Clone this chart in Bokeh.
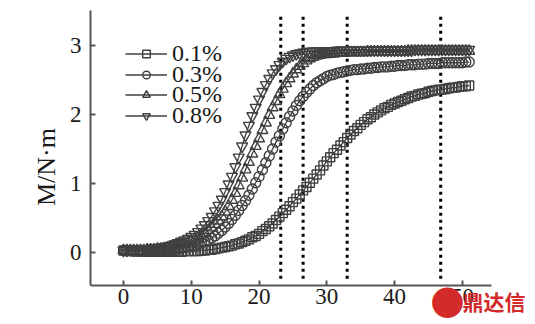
from bokeh.plotting import figure
from bokeh.models import (ColumnDataSource, Legend, LegendItem, Label, FixedTicker,
                          Range1d, CDSView, IndexFilter)
from bokeh.embed import file_html
from bokeh.resources import INLINE

# ---------------- data ----------------
TIME = [0, 0.5, 1, 1.5, 2, 2.5, 3, 3.5, 4, 4.5,
        5, 5.5, 6, 6.5, 7, 7.5, 8, 8.5, 9, 9.5,
        10, 10.5, 11, 11.5, 12, 12.5, 13, 13.5, 14, 14.5,
        15, 15.5, 16, 16.5, 17, 17.5, 18, 18.5, 19, 19.5,
        20, 20.5, 21, 21.5, 22, 22.5, 23, 23.5, 24, 24.5,
        25, 25.5, 26, 26.5, 27, 27.5, 28, 28.5, 29, 29.5,
        30, 30.5, 31, 31.5, 32, 32.5, 33, 33.5, 34, 34.5,
        35, 35.5, 36, 36.5, 37, 37.5, 38, 38.5, 39, 39.5,
        40, 40.5, 41, 41.5, 42, 42.5, 43, 43.5, 44, 44.5,
        45, 45.5, 46, 46.5, 47, 47.5, 48, 48.5, 49, 49.5,
        50, 50.5, 51]

M_01 = [0.03, 0.03, 0.02, 0.02, 0.02, 0.02, 0.01, 0.01, 0.01, 0.01,
        0.01, 0.01, 0.01, 0.01, 0.01, 0.01, 0.01, 0.01, 0.02, 0.02,
        0.02, 0.02, 0.02, 0.03, 0.03, 0.04, 0.04, 0.05, 0.06, 0.07,
        0.08, 0.09, 0.10, 0.12, 0.13, 0.15, 0.17, 0.19, 0.22, 0.24,
        0.27, 0.31, 0.34, 0.38, 0.42, 0.47, 0.52, 0.57, 0.62, 0.67,
        0.73, 0.78, 0.84, 0.90, 0.95, 1.01, 1.07, 1.13, 1.19, 1.26,
        1.32, 1.38, 1.44, 1.49, 1.55, 1.60, 1.66, 1.71, 1.76, 1.80,
        1.85, 1.89, 1.93, 1.96, 2.00, 2.03, 2.06, 2.09, 2.11, 2.14,
        2.16, 2.18, 2.20, 2.22, 2.24, 2.26, 2.27, 2.29, 2.30, 2.31,
        2.33, 2.34, 2.35, 2.36, 2.36, 2.37, 2.38, 2.39, 2.39, 2.40,
        2.41, 2.41, 2.42]

M_03 = [0.03, 0.03, 0.03, 0.02, 0.02, 0.02, 0.02, 0.02, 0.02, 0.02,
        0.02, 0.03, 0.03, 0.03, 0.04, 0.04, 0.05, 0.06, 0.07, 0.08,
        0.09, 0.10, 0.12, 0.14, 0.16, 0.18, 0.21, 0.24, 0.28, 0.32,
        0.37, 0.42, 0.48, 0.54, 0.61, 0.68, 0.75, 0.83, 0.92, 1.01,
        1.10, 1.20, 1.30, 1.40, 1.50, 1.60, 1.69, 1.79, 1.88, 1.97,
        2.05, 2.13, 2.20, 2.26, 2.32, 2.37, 2.42, 2.46, 2.49, 2.52,
        2.55, 2.57, 2.58, 2.60, 2.61, 2.62, 2.63, 2.64, 2.65, 2.65,
        2.66, 2.66, 2.67, 2.67, 2.68, 2.68, 2.69, 2.69, 2.69, 2.70,
        2.70, 2.71, 2.71, 2.71, 2.72, 2.72, 2.72, 2.73, 2.73, 2.73,
        2.74, 2.74, 2.74, 2.74, 2.75, 2.75, 2.75, 2.75, 2.75, 2.75,
        2.75, 2.76, 2.76]

M_05 = [0.03, 0.03, 0.03, 0.03, 0.03, 0.03, 0.03, 0.04, 0.04, 0.04,
        0.05, 0.05, 0.06, 0.07, 0.08, 0.09, 0.10, 0.11, 0.12, 0.14,
        0.16, 0.18, 0.21, 0.24, 0.28, 0.32, 0.36, 0.41, 0.46, 0.52,
        0.59, 0.67, 0.76, 0.86, 0.97, 1.08, 1.20, 1.31, 1.43, 1.54,
        1.65, 1.77, 1.88, 1.99, 2.10, 2.19, 2.29, 2.37, 2.45, 2.52,
        2.59, 2.65, 2.70, 2.74, 2.78, 2.81, 2.83, 2.85, 2.86, 2.87,
        2.87, 2.88, 2.88, 2.89, 2.89, 2.89, 2.90, 2.90, 2.90, 2.90,
        2.90, 2.90, 2.91, 2.91, 2.91, 2.91, 2.91, 2.91, 2.91, 2.91,
        2.91, 2.91, 2.91, 2.91, 2.92, 2.92, 2.92, 2.92, 2.92, 2.92,
        2.92, 2.92, 2.92, 2.92, 2.92, 2.92, 2.92, 2.92, 2.92, 2.92,
        2.92, 2.92, 2.92]

M_08 = [0.03, 0.03, 0.04, 0.04, 0.04, 0.04, 0.05, 0.05, 0.05, 0.06,
        0.06, 0.07, 0.08, 0.09, 0.10, 0.12, 0.14, 0.16, 0.18, 0.20,
        0.23, 0.26, 0.30, 0.35, 0.40, 0.46, 0.52, 0.60, 0.68, 0.77,
        0.88, 0.99, 1.10, 1.24, 1.38, 1.54, 1.70, 1.84, 1.98, 2.10,
        2.22, 2.33, 2.43, 2.52, 2.60, 2.66, 2.72, 2.77, 2.81, 2.84,
        2.86, 2.88, 2.89, 2.90, 2.91, 2.91, 2.92, 2.92, 2.92, 2.92,
        2.92, 2.92, 2.92, 2.93, 2.93, 2.93, 2.93, 2.93, 2.93, 2.93,
        2.93, 2.93, 2.93, 2.93, 2.93, 2.93, 2.93, 2.93, 2.93, 2.93,
        2.93, 2.93, 2.93, 2.93, 2.93, 2.93, 2.94, 2.94, 2.94, 2.94,
        2.94, 2.94, 2.94, 2.94, 2.94, 2.94, 2.94, 2.94, 2.94, 2.94,
        2.94, 2.94, 2.94]

SERIES_LABELS = ["0.1%", "0.3%", "0.5%", "0.8%"]
SERIES_VALUES = [M_01, M_03, M_05, M_08]
MARKERS = ["square", "circle", "triangle", "inverted_triangle"]
MARKER_SIZES = [9, 10, 11, 11]

T90 = [23.2, 26.5, 33.0, 46.8]          # dotted reference lines
X_TICKS = [0, 10, 20, 30, 40, 50]
Y_TICKS = [0, 1, 2, 3]
Y_LABEL = "M/N·m"
WATERMARK = "鼎达信"

SERIF = "Liberation Serif"
INK = "#404040"
TEXT = "#1a1a1a"
RED = "#d42a2a"

X_AXIS_MIN, X_AXIS_MAX = -4.87, 54.3
Y_AXIS_MIN, Y_AXIS_MAX = -0.478, 3.507

# ---------------- figure ----------------
# The frame runs to the bottom/right of the canvas; the axes are bounded to the
# visible chart extent so the watermark beneath/right of it stays in the frame.
p = figure(width=530, height=323, output_backend="svg", toolbar_location=None,
           x_range=Range1d(X_AXIS_MIN, 60.05), y_range=Range1d(-1.029, Y_AXIS_MAX),
           min_border_left=90, min_border_right=0, min_border_top=10, min_border_bottom=0)
p.background_fill_color = "white"
p.border_fill_color = "white"
p.outline_line_color = None
p.xgrid.visible = False
p.ygrid.visible = False

# dotted vertical lines
dsrc = ColumnDataSource(dict(t=T90))
p.segment(x0="t", y0=-0.38, x1="t", y1=3.43, source=dsrc,
          line_color="black", line_width=3, line_dash="3 4", line_cap="butt")

# legend row centres (px below the frame top) and shared legend geometry
ROW_CENTRES = [43, 64, 84.5, 105]
ITEM_H = 27
FRAME_H = 313

for lab, vals, mk, ms, rc in zip(SERIES_LABELS, SERIES_VALUES, MARKERS, MARKER_SIZES, ROW_CENTRES):
    src = ColumnDataSource(dict(t=TIME, m=vals))
    lr = p.line("t", "m", source=src, line_color=INK, line_width=1.3)
    sr = p.scatter("t", "m", source=src, marker=mk, size=ms, line_color=INK,
                   line_width=1.4, fill_color=None)
    # legend key marker: white filled, draws nothing on the plot itself
    ks = p.scatter("t", "m", source=src, view=CDSView(filter=IndexFilter(indices=[])),
                   marker=mk, size=ms - 1, line_color=INK, line_width=1.5,
                   fill_color="white")
    leg = Legend(items=[LegendItem(label=lab, renderers=[lr, sr, ks])],
                 location=(35, FRAME_H - rc - ITEM_H / 2), orientation="vertical",
                 label_text_font=SERIF, label_text_font_size="24px",
                 label_text_color=TEXT, glyph_width=42, glyph_height=19,
                 label_height=19, label_standoff=5, spacing=0, padding=0, margin=0,
                 border_line_color=None, background_fill_alpha=0)
    p.add_layout(leg, "center")

# axes
for ax in (p.xaxis[0], p.yaxis[0]):
    ax.axis_line_color = "#555555"
    ax.axis_line_width = 2
    ax.major_tick_line_color = "#555555"
    ax.major_tick_line_width = 2
    ax.major_tick_in = 5
    ax.major_tick_out = 0
    ax.minor_tick_line_color = None
    ax.major_label_text_font = SERIF
    ax.major_label_text_font_size = "23px"
    ax.major_label_text_color = TEXT

p.xaxis.fixed_location = Y_AXIS_MIN
p.xaxis.bounds = (X_AXIS_MIN, X_AXIS_MAX)
p.yaxis.bounds = (Y_AXIS_MIN, Y_AXIS_MAX)
p.xaxis.ticker = FixedTicker(ticks=X_TICKS)
p.yaxis.ticker = FixedTicker(ticks=Y_TICKS)
p.xaxis.major_label_standoff = 4
p.yaxis.major_label_standoff = 9
p.yaxis.axis_label = Y_LABEL
p.yaxis.axis_label_text_font = SERIF
p.yaxis.axis_label_text_font_size = "26px"
p.yaxis.axis_label_text_font_style = "normal"
p.yaxis.axis_label_text_color = TEXT
p.yaxis.axis_label_standoff = 6

# watermark (bottom right, over the last tick label)
p.add_layout(Label(x=47.8, y=-0.68, text="●", text_font="DejaVu Sans",
                   text_font_size="40px", text_color=RED,
                   text_baseline="middle", text_align="center"))
p.add_layout(Label(x=50.0, y=-0.70, text=WATERMARK, text_font="Noto Sans CJK SC",
                   text_font_size="21px", text_font_style="bold", text_color=RED,
                   text_baseline="middle", text_align="left"))

open("out.html", "w").write(file_html(p, INLINE))
